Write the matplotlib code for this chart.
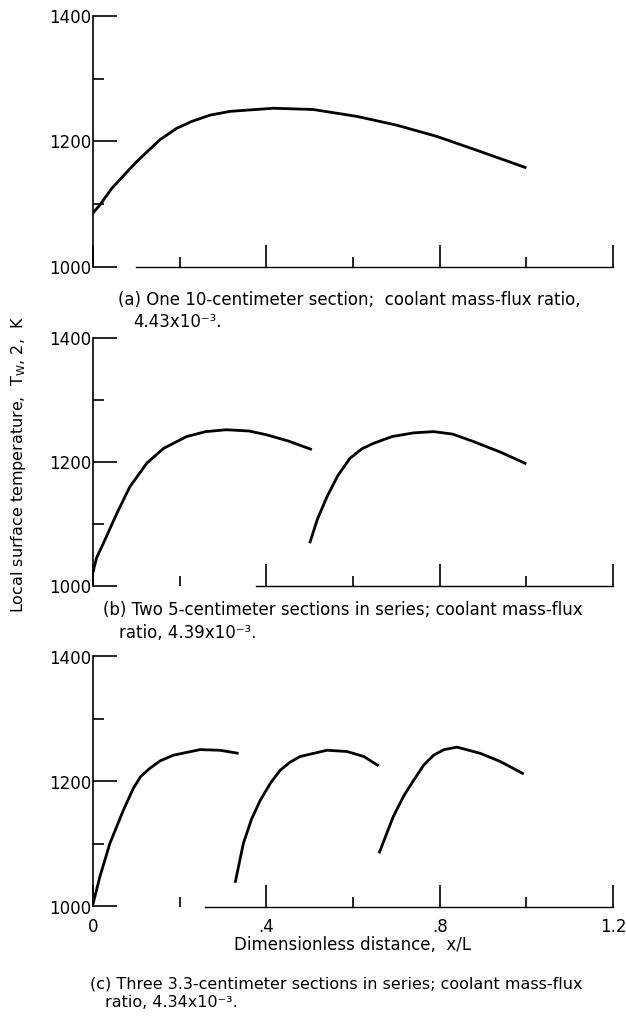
import matplotlib
matplotlib.use("Agg")
import matplotlib.pyplot as plt
from matplotlib.ticker import FixedLocator, NullFormatter

plt.rcParams.update({
    'font.family': ['DejaVu Sans'],
    'font.size': 12,
})

# (a) one 10-cm section
A_X = [0, 0.016, 0.043, 0.075, 0.101, 0.13, 0.155, 0.193, 0.228, 0.27, 0.316, 0.416, 0.508, 0.609, 0.701, 0.794, 0.894, 1.0]
A_T = [1086, 1099, 1125, 1149, 1168, 1187, 1203, 1221, 1232, 1242, 1248, 1253, 1251, 1240, 1226, 1208, 1184, 1158]

# (b) two 5-cm sections
B1_X = [0, 0.008, 0.024, 0.055, 0.085, 0.124, 0.163, 0.216, 0.26, 0.308, 0.36, 0.40, 0.45, 0.505]
B1_T = [1022, 1045, 1069, 1117, 1160, 1198, 1222, 1241, 1249, 1252, 1250, 1244, 1234, 1220]
B2_X = [0.5, 0.518, 0.54, 0.565, 0.593, 0.62, 0.647, 0.69, 0.74, 0.786, 0.83, 0.878, 0.94, 1.0]
B2_T = [1069, 1108, 1144, 1178, 1206, 1221, 1230, 1241, 1247, 1249, 1245, 1233, 1216, 1197]

# (c) three 3.3-cm sections
C1_X = [0, 0.016, 0.039, 0.070, 0.093, 0.11, 0.131, 0.155, 0.185, 0.247, 0.293, 0.336]
C1_T = [1004, 1048, 1101, 1154, 1189, 1208, 1221, 1233, 1242, 1251, 1250, 1245]
C2_X = [0.328, 0.347, 0.366, 0.386, 0.41, 0.432, 0.455, 0.478, 0.54, 0.586, 0.625, 0.659]
C2_T = [1038, 1101, 1140, 1170, 1198, 1218, 1231, 1240, 1250, 1248, 1240, 1225]
C3_X = [0.66, 0.693, 0.718, 0.74, 0.763, 0.786, 0.81, 0.84, 0.894, 0.94, 0.994]
C3_T = [1085, 1144, 1178, 1202, 1226, 1242, 1251, 1255, 1245, 1232, 1212]

PANELS = [
    [(A_X, A_T)],
    [(B1_X, B1_T), (B2_X, B2_T)],
    [(C1_X, C1_T), (C2_X, C2_T), (C3_X, C3_T)],
]
BOTTOM_START = [0.10, 0.376, 0.259]

X_MAJOR = [0, 0.4, 0.8, 1.2]
X_MINOR = [0.2, 0.6, 1.0]
X_LABELS = ['0', '.4', '.8', '1.2']
Y_MAJOR = [1000, 1200, 1400]
Y_MINOR = [1100, 1300]

CAPTIONS = [
    ("(a) One 10-centimeter section;  coolant mass-flux ratio,", "4.43x10\u207b\u00b3."),
    ("(b) Two 5-centimeter sections in series; coolant mass-flux", "ratio, 4.39x10\u207b\u00b3."),
    ("(c) Three 3.3-centimeter sections in series; coolant mass-flux", "ratio, 4.34x10\u207b\u00b3."),
]
CAPTION_SIZE = [12, 12, 11.5]

W, H = 626, 1021
fig = plt.figure(figsize=(W / 100, H / 100), dpi=100)

# axes boxes in pixels: (top, bottom)
boxes = [(16, 267), (338, 586), (656.5, 906.5)]
left_px, right_px = 93, 613

# caption anchors in pixels: (x1, baseline1, x2, baseline2)
cap_pos = [(118, 305, 133, 327), (103, 615, 119, 638), (90, 988, 105, 1007)]

for i, (top, bot) in enumerate(boxes):
    ax = fig.add_axes([left_px / W, 1 - bot / H, (right_px - left_px) / W, (bot - top) / H])
    for xs, ts in PANELS[i]:
        ax.plot(xs, ts, color='black', lw=2.0, solid_capstyle='butt')

    ax.set_xlim(0, 1.2)
    ax.set_ylim(1000, 1400)
    ax.spines['top'].set_visible(False)
    ax.spines['right'].set_visible(False)
    ax.spines['left'].set_linewidth(1.2)
    ax.spines['bottom'].set_linewidth(1.0)
    ax.spines['bottom'].set_bounds(BOTTOM_START[i], 1.2)

    ax.xaxis.set_major_locator(FixedLocator(X_MAJOR))
    ax.xaxis.set_minor_locator(FixedLocator(X_MINOR))
    ax.yaxis.set_major_locator(FixedLocator(Y_MAJOR))
    ax.yaxis.set_minor_locator(FixedLocator(Y_MINOR))
    ax.tick_params(axis='both', which='both', direction='in', color='black')
    ax.tick_params(axis='x', which='major', length=16, width=1.2, pad=8, labelsize=12)
    ax.tick_params(axis='x', which='minor', length=7, width=1.2)
    ax.tick_params(axis='y', which='major', length=17, width=1.2, pad=1, labelsize=12)
    ax.tick_params(axis='y', which='minor', length=8, width=1.2)
    ax.set_yticklabels([str(v) for v in Y_MAJOR])
    if i == 2:
        ax.set_xticklabels(X_LABELS)
        ax.set_xlabel("Dimensionless distance,  x/L", fontsize=12, labelpad=0)
    else:
        ax.xaxis.set_major_formatter(NullFormatter())

    x1, y1, x2, y2 = cap_pos[i]
    fs = CAPTION_SIZE[i]
    fig.text(x1 / W, 1 - y1 / H, CAPTIONS[i][0], fontsize=fs, va='baseline', ha='left')
    fig.text(x2 / W, 1 - y2 / H, CAPTIONS[i][1], fontsize=fs, va='baseline', ha='left')

fig.text(19 / W, 1 - 464 / H, r"Local surface temperature,  T$_{\mathregular{W}}$, 2,  K",
         rotation=90, fontsize=11.5, ha='center', va='center')

fig.savefig("out.png", dpi=100)
